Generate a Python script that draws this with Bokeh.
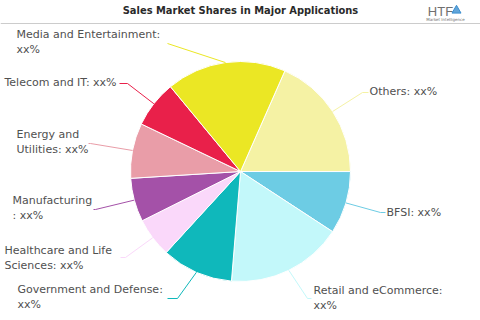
import numpy as np
from bokeh.plotting import figure
from bokeh.models import Range1d
from bokeh.embed import file_html
from bokeh.resources import INLINE
from bokeh.core.properties import value

# ---- data (clockwise, starting with "Others") ----
categories = ["Others", "BFSI", "Retail and eCommerce", "Government and Defense",
              "Healthcare and Life Sciences", "Manufacturing", "Energy and Utilities",
              "Telecom and IT", "Media and Entertainment"]
shares = [18.4, 9.2, 17.1, 10.5, 5.8, 6.4, 8.1, 6.9, 17.6]
value_labels = ["xx%"] * 9
colors = ["#F5F2A4", "#6DCCE4", "#C3F8FA", "#0FB8BB", "#FAD8FA",
          "#A451A8", "#E99DA8", "#E9204A", "#EBE724"]
title_text = "Sales Market Shares in Major Applications"

# ---- layout ----
W, H = 480, 320
CX, CY, R = 240, 171, 110          # pixel coords (y down)
START_DEG = 23.8                   # clockwise from 12 o'clock
first_line_len = [None, None, 21, 23, 19, 13, 10, None, 24]
label_pos = [(369, 91), (386, 212), (313, 290), (17, 289), (4, 250),
             (12, 200), (16, 134), (4, 82), (16, 34)]
elbows = [((362, 92), (368, 92)), ((380, 212), (385, 212)), ((307, 298), (311, 298)),
          ((177, 298), (167, 298)), ((125, 257), (120, 257)), ((95, 209), (93, 209)),
          ((90, 143), (88, 143)), ((127, 83), (119, 83)), ((167, 43), (167, 43))]
LINE_H = 15


def Y(y):
    return H - y


p = figure(width=W, height=H, output_backend="svg", toolbar_location=None,
           x_range=Range1d(0, W), y_range=Range1d(0, H), min_border=0)
p.axis.visible = False
p.grid.visible = False
p.outline_line_color = None
p.background_fill_color = "white"

# ---- pie ----
sh = np.array(shares, dtype=float)
frac = sh / sh.sum() * 360.0
cum = START_DEG + np.concatenate([[0], np.cumsum(frac)])
start_cw = cum[:-1]
end_cw = cum[1:]
start_b = np.radians(90 - start_cw)
end_b = np.radians(90 - end_cw)
p.wedge(x=CX, y=Y(CY), radius=R, start_angle=start_b, end_angle=end_b,
        direction="clock", fill_color=colors, line_color="white", line_width=1)

# ---- connectors and labels ----
font = value("DejaVu Sans")
for i, cat in enumerate(categories):
    mid = np.radians((start_cw[i] + end_cw[i]) / 2)
    ax = CX + R * np.sin(mid)
    ay = CY - R * np.cos(mid)
    (ex, ey), (fx, fy) = elbows[i]
    p.line([ax, ex, fx], [Y(ay), Y(ey), Y(fy)], line_color=colors[i], line_width=1)

    full = f"{cat}: {value_labels[i]}"
    n = first_line_len[i]
    lines = [full] if n is None else [full[:n], full[n:].strip()]
    lx, ly = label_pos[i]
    for k, t in enumerate(lines):
        p.text(x=[lx], y=[Y(ly + k * LINE_H)], text=[t], text_font=font,
               text_font_size="11px", text_color="#505050",
               text_baseline="middle", text_align="left")

# ---- title, separator, logo ----
p.text(x=[240], y=[Y(10)], text=[title_text],
       text_font=value("DejaVu Sans Condensed, Liberation Sans Narrow, Liberation Sans"),
       text_font_style="bold", text_font_size="11px", text_color="#2a2a2a",
       text_baseline="middle", text_align="center")
p.line([0, W], [Y(23), Y(23)], line_color="#cccccc", line_width=1)
p.text(x=[440], y=[Y(11)], text=["HTF"], text_font=value("Liberation Sans"),
       text_font_size="13px", text_color="#707070",
       text_baseline="middle", text_align="center")
p.scatter(x=[456], y=[Y(10)], marker="triangle", size=9, fill_color="#3b8fd0",
          line_color="#3b8fd0", fill_alpha=0.8)
p.text(x=[445], y=[Y(19)], text=["Market Intelligence"], text_font=value("DejaVu Sans"),
       text_font_size="4px", text_color="#707070",
       text_baseline="middle", text_align="center")

open("out.html", "w").write(file_html(p, INLINE))
